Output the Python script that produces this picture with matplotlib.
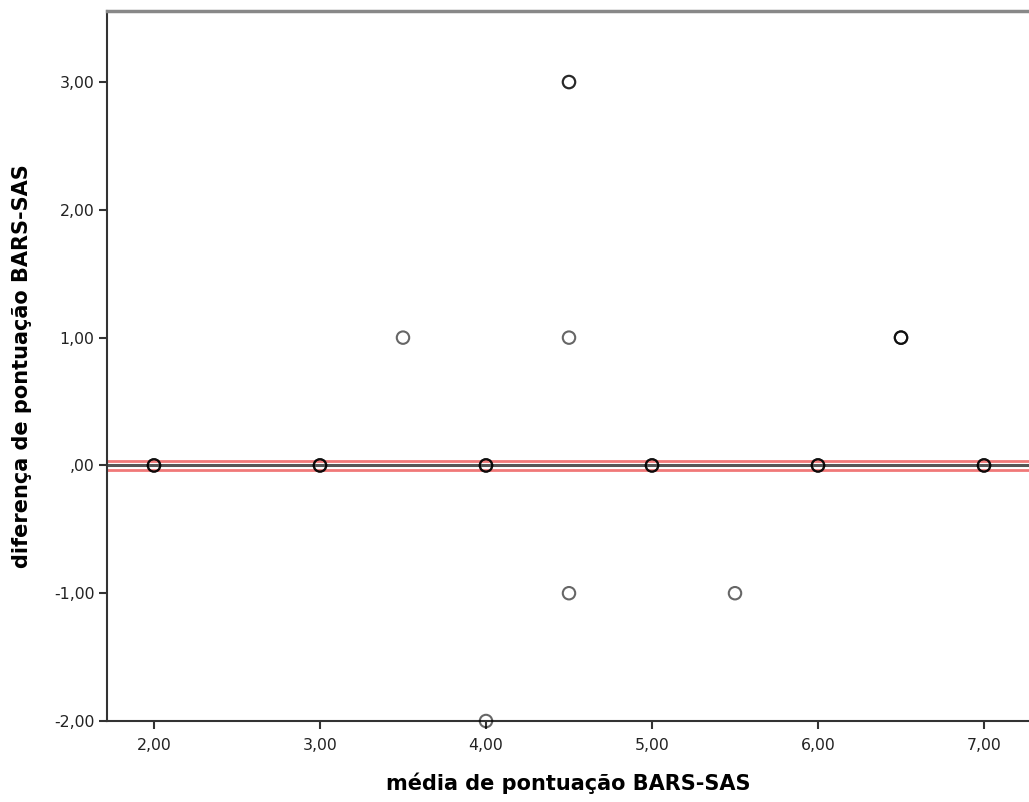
import matplotlib
matplotlib.use("Agg")
import matplotlib.pyplot as plt

# Data (mean score, difference), duplicates listed as they overlap in the plot
media = [2, 2, 2, 3, 3, 3, 3.5, 4, 4, 4, 4, 4.5, 4.5, 4.5, 4.5, 5, 5, 5, 5.5, 6, 6, 6, 6.5, 6.5, 6.5, 7, 7, 7]
diferenca = [0, 0, 0, 0, 0, 0, 1, 0, 0, 0, -2, 3, 3, 1, -1, 0, 0, 0, -1, 0, 0, 0, 1, 1, 1, 0, 0, 0]

mean_diff = 0.0
upper_limit = 0.037
lower_limit = -0.037

xticks = [2, 3, 4, 5, 6, 7]
xticklabels = ["2,00", "3,00", "4,00", "5,00", "6,00", "7,00"]
yticks = [-2, -1, 0, 1, 2, 3]
yticklabels = ["-2,00", "-1,00", ",00", "1,00", "2,00", "3,00"]

plt.rcParams['font.family'] = ['DejaVu Sans']

fig = plt.figure(figsize=(10.29, 8.02), dpi=100)
ax = fig.add_axes([107/1029, 1 - 721/802, 1 - 107/1029, (721 - 11)/802])

ax.axhline(upper_limit, color='#f07878', lw=2.0, zorder=1)
ax.axhline(lower_limit, color='#f07878', lw=2.0, zorder=1)
ax.axhline(mean_diff, color='#555555', lw=2.2, zorder=2)

ax.scatter(media, diferenca, s=80, facecolors='none', edgecolors=(0, 0, 0, 0.6),
           linewidths=1.5, zorder=3, clip_on=False)

ax.set_xlim(1.717, 7.271)
ax.set_ylim(-2.0, 3.556)

ax.set_xticks(xticks)
ax.set_xticklabels(xticklabels)
ax.set_yticks(yticks)
ax.set_yticklabels(yticklabels)
ax.tick_params(axis='both', direction='out', length=6, width=1.5, color='#333333',
               labelsize=11.3, labelcolor='#222222', pad=3)
ax.tick_params(axis='x', pad=6)

ax.spines['right'].set_visible(False)
ax.spines['top'].set_color('#888888')
ax.spines['top'].set_linewidth(2.5)
for s in ['left', 'bottom']:
    ax.spines[s].set_color('#333333')
    ax.spines[s].set_linewidth(1.5)

ax.set_xlabel('média de pontuação BARS-SAS', fontsize=15, fontweight='bold', labelpad=14)
ax.set_ylabel('diferença de pontuação BARS-SAS', fontsize=15, fontweight='bold', labelpad=16)

fig.savefig('out.png', dpi=100)
